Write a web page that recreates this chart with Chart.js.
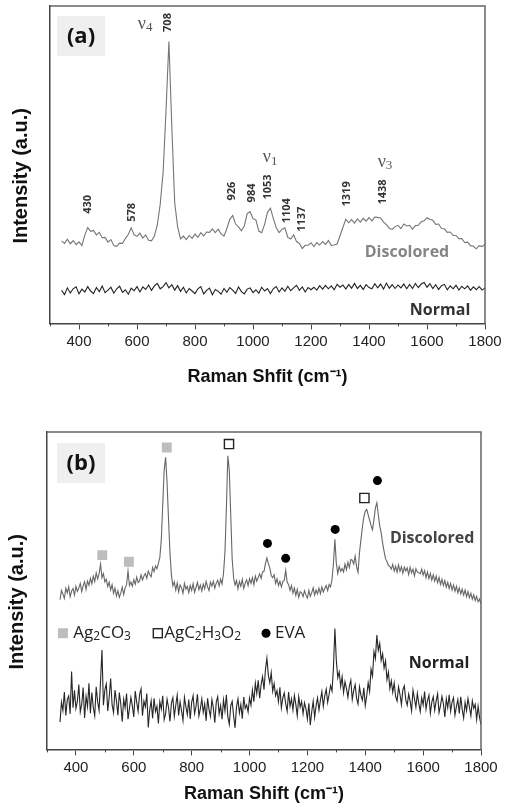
<!DOCTYPE html>
<html>
<head>
<meta charset="utf-8">
<script src="https://cdn.jsdelivr.net/npm/chart.js@4.4.1/dist/chart.umd.min.js"></script>
<style>
  body { margin: 0; background: #fff; }
  canvas { display: block; }
</style>
</head>
<body>
<canvas id="chartA" width="505" height="400"></canvas>
<canvas id="chartB" width="505" height="409"></canvas>
<script>
/*///////////////////////////////////////////////////////////
資料 (a) : 340 ~ 1800 cm-1, every 10
///////////////////////////////////////////////////////////*/
var shiftStartA = 340, shiftStepA = 10;
var discoloredA = [
  26.0, 25.2, 26.5, 25.1, 26.1, 24.8, 25.7,
  24.5, 27.8, 30.2, 29.0, 29.3, 27.9, 28.7, 27.0, 27.1, 25.6,
  26.4, 24.5, 24.3, 25.3, 25.2, 26.8, 28.0, 30.1, 27.9, 27.4,
  28.4, 26.9, 27.9, 26.2, 26.0, 27.5, 31.0, 37.5, 47.5, 67.0,
  88.8, 62.0, 38.0, 30.5, 26.6, 27.5, 26.4, 27.7, 26.8, 28.1,
  27.1, 28.6, 27.6, 28.8, 28.7, 29.8, 28.6, 29.7, 28.2, 27.5,
  29.9, 32.8, 34.0, 31.3, 30.4, 29.2, 30.7, 34.6, 35.2, 33.0,
  32.6, 29.1, 28.6, 31.2, 35.0, 36.3, 33.1, 30.2, 28.6, 29.6,
  30.1, 27.1, 26.6, 27.9, 25.8, 25.2, 23.6, 24.6, 24.6, 25.4,
  24.2, 25.5, 24.7, 25.8, 24.9, 26.1, 24.6, 24.7, 25.0, 27.6,
  30.2, 32.8, 31.7, 32.7, 31.6, 32.9, 31.9, 33.1, 32.2, 33.3,
  32.3, 33.5, 33.4, 33.2, 31.9, 31.1, 30.0, 29.6, 30.5, 30.9,
  29.9, 31.3, 30.7, 30.9, 29.7, 30.8, 30.9, 32.0, 32.3, 33.3,
  32.8, 32.5, 31.2, 31.3, 29.9, 29.8, 28.7, 28.8, 27.7, 27.7,
  26.7, 26.7, 25.5, 25.6, 24.5, 24.3, 23.5, 24.5, 24.2, 25.0
];
var normalA = [
  10.4, 9.1, 11.2, 9.6, 10.9, 11.5, 9.3,
  10.8, 9.9, 11.6, 10.2, 9.4, 11.3, 10.0, 11.8, 9.7, 10.5,
  11.4, 9.5, 10.9, 11.7, 9.8, 10.6, 9.2, 11.1, 10.3, 11.6,
  9.9, 11.5, 10.7, 12.1, 10.4, 11.8, 12.6, 10.9, 11.6, 12.8,
  11.2, 12.2, 10.5, 11.9, 10.1, 11.4, 9.6, 11.0, 10.2, 9.4,
  10.9, 11.6, 9.3, 10.4, 11.1, 9.0, 10.7, 10.1, 9.2, 11.0,
  9.8, 11.3, 10.5, 9.4, 11.5, 10.0, 9.3, 10.8, 11.2, 9.7,
  10.6, 9.5, 11.4, 10.2, 11.0, 9.4, 10.9, 11.6, 9.9, 11.2,
  10.1, 11.7, 10.3, 11.2, 12.0, 10.4, 11.5, 9.9, 11.3, 10.6,
  11.4, 10.5, 11.9, 10.8, 12.0, 10.9, 11.8, 10.6, 12.3, 11.4,
  12.1, 10.8, 12.3, 11.1, 12.6, 11.0, 12.0, 10.7, 12.2, 11.3,
  10.9, 12.5, 11.2, 12.4, 10.8, 12.7, 11.1, 12.2, 11.0, 12.1,
  11.2, 12.4, 10.9, 12.3, 11.0, 12.6, 11.3, 12.4, 12.9, 11.4,
  12.5, 11.0, 12.2, 10.7, 11.9, 12.3, 10.6, 11.8, 10.9, 12.0,
  10.5, 11.7, 10.9, 11.8, 10.4, 11.5, 10.6, 11.6, 10.5, 11.2
];
var peakNamesA = ['708', '430', '578', '926', '984', '1053', '1104', '1137', '1319', '1438'];

/*///////////////////////////////////////////////////////////
資料 (b) : 345 ~ 1800 cm-1, every 5
///////////////////////////////////////////////////////////*/
var shiftStartB = 345, shiftStepB = 5;
var discoloredB = [
  47.2, 50.1, 48.9, 47.6, 50.8, 49.3, 51.2, 48.1, 49.9, 50.7,
  48.6, 51.4, 49.8, 50.9, 52.3, 49.7, 51.6, 52.8, 50.4, 53.0,
  51.7, 53.9, 52.2, 54.6, 52.9, 55.6, 53.7, 55.3, 58.4, 54.1,
  55.4, 52.8, 53.6, 51.3, 52.7, 50.2, 51.9, 49.2, 50.8, 48.3,
  50.0, 47.9, 49.3, 51.1, 48.8, 50.9, 51.9, 56.2, 51.6, 52.7,
  51.4, 53.5, 52.0, 54.3, 52.6, 53.1, 55.0, 53.4, 54.6, 55.4,
  53.9, 56.2, 55.1, 54.4, 57.3, 56.0, 57.8, 56.9, 58.6, 60.5,
  66.0, 77.0, 88.0, 92.0, 84.0, 72.5, 62.0, 55.0, 51.5, 52.8,
  50.2, 52.4, 49.6, 51.8, 50.9, 49.2, 52.3, 50.5, 51.4, 49.4,
  51.7, 50.1, 52.2, 49.5, 51.0, 52.6, 50.3, 51.8, 49.9, 52.1,
  50.6, 52.9, 51.2, 50.0, 52.7, 51.5, 53.0, 50.8, 52.4, 53.3,
  51.5, 53.6, 52.1, 55.4, 62.0, 76.0, 92.5, 88.0, 74.0, 60.0,
  54.0, 51.8, 53.2, 50.6, 52.9, 51.4, 53.6, 50.7, 52.3, 53.4,
  51.6, 53.8, 52.3, 54.1, 51.9, 54.6, 53.0, 54.2, 55.3, 53.9,
  55.9, 56.1, 58.5, 60.3, 58.6, 57.2, 54.8, 54.1, 55.0, 52.3,
  53.7, 51.6, 53.0, 51.2, 52.9, 53.3, 56.4, 52.7, 51.9, 50.1,
  51.6, 49.2, 50.8, 48.5, 50.4, 47.9, 49.7, 49.3, 48.1, 50.0,
  48.6, 47.7, 50.1, 48.2, 49.4, 50.9, 48.6, 50.2, 49.0, 50.8,
  49.1, 51.2, 49.6, 50.7, 51.6, 50.0, 51.9, 51.2, 53.5, 58.5,
  66.2, 58.6, 55.4, 57.6, 56.1, 57.0, 55.9, 58.4, 56.6, 59.0,
  57.3, 59.8, 59.6, 58.4, 60.9, 57.6, 55.8, 62.0, 66.0, 70.0,
  73.2, 75.0, 75.6, 74.0, 72.2, 70.5, 69.2, 72.4, 76.0, 77.7,
  74.0, 70.4, 68.2, 65.0, 62.4, 60.1, 59.2, 58.0, 57.6, 56.8,
  58.3, 56.2, 57.7, 55.8, 58.1, 56.1, 57.6, 55.5, 57.4, 56.2,
  57.2, 55.1, 57.4, 55.6, 56.8, 54.7, 56.9, 55.9, 55.7, 55.3,
  56.8, 54.9, 56.3, 54.1, 55.9, 53.8, 55.4, 53.3, 55.0, 53.0,
  54.6, 52.5, 54.2, 52.0, 53.6, 51.6, 53.2, 51.1, 52.6, 50.7,
  52.3, 50.2, 51.8, 49.8, 51.4, 49.3, 50.9, 49.0, 50.5, 48.6,
  50.2, 48.1, 49.7, 47.8, 49.2, 47.3, 48.7, 46.9, 48.2, 46.5,
  47.4, 45.8
];
var normalB = [
  8.6, 14.9, 12.3, 18.1, 10.7, 15.6, 16.8, 11.2, 24.5, 13.1,
  18.6, 12.9, 15.1, 20.4, 11.8, 14.2, 19.5, 9.9, 16.7, 13.5,
  20.8, 11.4, 17.9, 13.2, 10.6, 19.7, 15.0, 12.3, 21.4, 31.3,
  13.9, 18.8, 20.6, 12.1, 16.5, 22.3, 14.0, 11.6, 18.7, 15.3,
  10.8, 17.9, 14.4, 8.7, 15.8, 13.1, 17.6, 9.5, 12.9, 16.4,
  13.7, 10.2, 18.4, 14.9, 12.0, 17.3, 19.1, 10.6, 15.2, 13.4,
  17.6, 6.9, 12.5, 15.3, 9.8, 16.1, 11.9, 13.6, 8.2, 15.0,
  12.7, 16.9, 9.4, 11.3, 15.8, 13.2, 8.8, 14.6, 16.3, 10.4,
  13.9, 17.1, 10.7, 15.0, 12.2, 9.1, 16.4, 13.5, 11.0, 15.7,
  9.6, 14.8, 16.9, 11.3, 13.6, 17.4, 10.5, 12.8, 15.9, 11.7,
  14.3, 9.0, 16.1, 12.6, 10.4, 15.7, 13.0, 8.4, 14.9, 16.6,
  11.2, 13.8, 9.5, 15.6, 12.1, 17.2, 10.3, 7.9, 13.7, 15.1,
  10.6, 6.8, 13.4, 15.9, 11.5, 14.2, 9.7, 16.5, 12.9, 14.0,
  11.8, 16.2, 13.9, 18.7, 15.0, 20.9, 17.6, 21.8, 16.1, 20.4,
  22.9, 18.8, 25.1, 28.7, 23.4, 21.0, 24.2, 18.3, 20.7, 16.9,
  18.5, 15.0, 19.6, 13.1, 16.2, 17.8, 14.4, 12.0, 18.1, 13.6,
  15.9, 12.4, 17.0, 14.2, 10.6, 16.6, 13.3, 15.1, 11.2, 14.7,
  12.8, 9.6, 14.5, 7.6, 11.9, 15.2, 10.1, 13.7, 16.2, 12.4,
  15.5, 18.2, 13.6, 16.9, 19.0, 14.8, 17.3, 20.1, 18.4, 25.6,
  38.1, 28.0, 22.6, 24.4, 19.8, 22.9, 17.9, 21.3, 19.2, 16.4,
  19.9, 21.8, 15.7, 18.6, 20.4, 16.1, 14.3, 19.7, 17.0, 15.5,
  19.4, 13.8, 16.9, 21.0, 18.2, 25.3, 23.1, 30.8, 28.6, 36.0,
  31.2, 33.4, 28.0, 30.1, 25.6, 27.9, 22.0, 24.4, 19.2, 21.6,
  18.0, 20.9, 16.6, 15.2, 19.7, 17.3, 14.1, 18.8, 20.0, 15.6,
  13.9, 17.4, 15.2, 12.1, 18.6, 16.0, 13.3, 17.7, 14.5, 11.9,
  16.3, 14.0, 18.2, 12.7, 15.4, 17.1, 11.4, 14.9, 16.6, 12.3,
  15.2, 17.5, 11.6, 13.8, 16.7, 14.4, 10.2, 15.9, 13.1, 17.2,
  12.0, 14.9, 16.3, 10.8, 13.5, 15.7, 11.3, 16.6, 12.6, 9.9,
  14.8, 12.2, 16.0, 13.4, 10.6, 15.3, 12.9, 14.2, 9.4, 13.6,
  10.1, 7.8
];
// 峰位標記 (b)
var ag2co3Shift = [491, 583, 714];
var ag2co3Level = [61.2, 59.1, 95.1];
var acetateShift = [929, 1397];
var acetateLevel = [96.2, 79.2];
var evaShift = [1062, 1125, 1296, 1442];
var evaLevel = [64.9, 60.2, 69.3, 84.7];

/*///////////////////////////////////////////////////////////
工具
///////////////////////////////////////////////////////////*/
function toPoints(start, step, values) {
  return values.map(function (v, i) { return { x: start + i * step, y: v }; });
}
function pair(xs, ys) {
  return xs.map(function (x, i) { return { x: x, y: ys[i] }; });
}

var HUMAN = '"Open Sans", "Noto Sans", sans-serif';
var SERIF = '"Liberation Serif", "DejaVu Serif", serif';

// digits are drawn as subscripts (Ag2CO3, v4 ...)
function drawSubText(ctx, str, x, y, size, family, weight, align) {
  var parts = str.match(/\d+|\D+/g);
  var small = Math.round(size * 0.7);
  var w = 0;
  parts.forEach(function (p) {
    ctx.font = weight + ' ' + (/\d/.test(p) ? small : size) + 'px ' + family;
    w += ctx.measureText(p).width;
  });
  var cx = align === 'center' ? x - w / 2 : x;
  ctx.textAlign = 'left';
  ctx.textBaseline = 'middle';
  parts.forEach(function (p) {
    var sub = /\d/.test(p);
    ctx.font = weight + ' ' + (sub ? small : size) + 'px ' + family;
    ctx.fillText(p, cx, sub ? y + size * 0.2 : y);
    cx += ctx.measureText(p).width;
  });
}

/*///////////////////////////////////////////////////////////
標註 plugin : frame, minor ticks, panel tag, texts
///////////////////////////////////////////////////////////*/
var notePlugin = {
  id: 'notes',
  afterDatasetsDraw: function (chart, args, opts) {
    var ctx = chart.ctx, a = chart.chartArea;
    var xs = chart.scales.x, ys = chart.scales.y;
    ctx.save();

    // top / right frame
    ctx.strokeStyle = '#666';
    ctx.lineWidth = 1.5;
    ctx.beginPath();
    ctx.moveTo(a.left, a.top);
    ctx.lineTo(a.right, a.top);
    ctx.lineTo(a.right, a.bottom);
    ctx.stroke();

    // minor ticks every odd hundred
    ctx.strokeStyle = '#444';
    ctx.lineWidth = 1;
    for (var v = 300; v <= 1800; v += 100) {
      if (v % 200 === 0) continue;
      var px = Math.round(xs.getPixelForValue(v)) + 0.5;
      ctx.beginPath();
      ctx.moveTo(px, a.bottom);
      ctx.lineTo(px, a.bottom + 3);
      ctx.stroke();
    }

    // (a) / (b) tag
    var t = opts.tag;
    ctx.fillStyle = '#efefef';
    ctx.fillRect(a.left + t.dx, a.top + t.dy, 48, 40);
    ctx.fillStyle = '#111';
    ctx.font = 'bold 22px ' + HUMAN;
    ctx.textAlign = 'center';
    ctx.textBaseline = 'middle';
    ctx.fillText(t.text, a.left + t.dx + 24, a.top + t.dy + 21);

    (opts.items || []).forEach(function (it) {
      var x = xs.getPixelForValue(it.x), y = ys.getPixelForValue(it.y);
      ctx.fillStyle = it.color;
      if (it.rotate) {
        ctx.save();
        ctx.translate(x, y);
        ctx.rotate(-Math.PI / 2);
        ctx.font = 'bold 11px ' + HUMAN;
        ctx.textAlign = 'center';
        ctx.textBaseline = 'middle';
        ctx.fillText(it.text, 0, 0);
        ctx.restore();
      } else if (it.key) {
        // legend key
        ctx.lineWidth = 1.4;
        if (it.key === 'fill') {
          ctx.fillStyle = '#bdbdbd';
          ctx.fillRect(x - 5, y - 5, 10, 10);
        } else if (it.key === 'open') {
          ctx.strokeStyle = '#222';
          ctx.strokeRect(x - 4.5, y - 4.5, 9, 9);
        } else {
          ctx.fillStyle = '#000';
          ctx.beginPath();
          ctx.arc(x, y, 4.5, 0, Math.PI * 2);
          ctx.fill();
        }
      } else {
        drawSubText(ctx, it.text, x, y, it.size, it.family || HUMAN, it.weight || 'normal', it.align || 'center');
      }
    });
    ctx.restore();
  }
};

/*///////////////////////////////////////////////////////////
圖表
///////////////////////////////////////////////////////////*/
Chart.defaults.font.family = '"Liberation Sans", Arial, sans-serif';
Chart.defaults.color = '#222';

function makeChart(id, cfg) {
  return new Chart(document.getElementById(id), {
    type: 'line',
    data: { datasets: cfg.datasets },
    options: {
      responsive: false,
      animation: false,
      events: [],
      layout: { padding: cfg.padding },
      plugins: {
        legend: { display: false },
        tooltip: { enabled: false },
        notes: { tag: cfg.tag, items: cfg.items }
      },
      scales: {
        x: {
          type: 'linear',
          min: 300,
          max: 1800,
          grid: {
            drawOnChartArea: false,
            tickLength: 6,
            tickColor: function (c) { return c.tick && c.tick.value % 200 === 0 ? '#444' : 'rgba(0,0,0,0)'; }
          },
          border: { display: true, color: '#444', width: 1.5 },
          ticks: {
            stepSize: 100,
            autoSkip: false,
            maxRotation: 0,
            padding: 3,
            color: '#222',
            font: { size: 15 },
            callback: function (v) { return v % 200 === 0 ? v : ''; }
          },
          title: {
            display: true,
            text: cfg.xTitle,
            color: '#111',
            font: { size: 18, weight: 'bold' },
            padding: cfg.xTitlePad
          }
        },
        y: {
          min: 0,
          max: 100,
          grid: { display: false, drawTicks: false },
          border: { display: true, color: '#444', width: 1.5 },
          ticks: { display: false },
          title: {
            display: true,
            // trailing spaces push the title a little down, as in the original
            text: 'Intensity (a.u.)\u00a0\u00a0\u00a0\u00a0',
            color: '#111',
            font: { size: 20, weight: 'bold' },
            padding: cfg.yTitlePad
          }
        }
      }
    },
    plugins: [notePlugin]
  });
}

// (a)
var labelsA = [
  { text: peakNamesA[0], x: 707, y: 94.8, rotate: true, color: '#333' },
  { text: peakNamesA[1], x: 431, y: 37.5, rotate: true, color: '#333' },
  { text: peakNamesA[2], x: 583, y: 35.0, rotate: true, color: '#333' },
  { text: peakNamesA[3], x: 928, y: 41.7, rotate: true, color: '#333' },
  { text: peakNamesA[4], x: 997, y: 41.1, rotate: true, color: '#333' },
  { text: peakNamesA[5], x: 1052, y: 43.0, rotate: true, color: '#333' },
  { text: peakNamesA[6], x: 1117, y: 35.5, rotate: true, color: '#333' },
  { text: peakNamesA[7], x: 1169, y: 32.8, rotate: true, color: '#333' },
  { text: peakNamesA[8], x: 1324, y: 40.8, rotate: true, color: '#333' },
  { text: peakNamesA[9], x: 1448, y: 41.4, rotate: true, color: '#333' },
  { text: '\u03bd4', x: 628, y: 94.4, size: 18, family: SERIF, color: '#555' },
  { text: '\u03bd1', x: 1059, y: 52.2, size: 18, family: SERIF, color: '#555' },
  { text: '\u03bd3', x: 1455, y: 50.9, size: 18, family: SERIF, color: '#555' },
  { text: 'Discolored', x: 1531, y: 22.3, size: 16, weight: 'bold', color: '#858585' },
  { text: 'Normal', x: 1645, y: 4.1, size: 16, weight: 'bold', color: '#333' }
];
makeChart('chartA', {
  padding: { top: 6, right: 20, bottom: 8, left: 0 },
  xTitle: 'Raman Shfit (cm\u207b\u00b9)',
  xTitlePad: { top: 13, bottom: 4 },
  yTitlePad: { top: 9, bottom: 17 },
  tag: { text: '(a)', dx: 7, dy: 10 },
  items: labelsA,
  datasets: [
    { data: toPoints(shiftStartA, shiftStepA, discoloredA), borderColor: '#757575', borderWidth: 1.1, pointRadius: 0, tension: 0 },
    { data: toPoints(shiftStartA, shiftStepA, normalA), borderColor: '#222', borderWidth: 1.1, pointRadius: 0, tension: 0 }
  ]
});

// (b)
var labelsB = [
  { text: 'Discolored', x: 1631, y: 66.4, size: 16, weight: 'bold', color: '#444' },
  { text: 'Normal', x: 1655, y: 27.2, size: 16, weight: 'bold', color: '#222' },
  { key: 'fill', x: 355, y: 36.6 },
  { text: 'Ag2CO3', x: 391, y: 36.6, size: 17, align: 'left', color: '#222' },
  { key: 'open', x: 683, y: 36.6 },
  { text: 'AgC2H3O2', x: 705, y: 36.6, size: 17, align: 'left', color: '#222' },
  { key: 'dot', x: 1057, y: 36.6 },
  { text: 'EVA', x: 1088, y: 36.6, size: 17, align: 'left', color: '#222' }
];
makeChart('chartB', {
  padding: { top: 32, right: 24, bottom: 2, left: 0 },
  xTitle: 'Raman Shift (cm\u207b\u00b9)',
  xTitlePad: { top: 4, bottom: 2 },
  yTitlePad: { top: 5, bottom: 18 },
  tag: { text: '(b)', dx: 10, dy: 11 },
  items: labelsB,
  datasets: [
    { type: 'scatter', data: pair(ag2co3Shift, ag2co3Level), pointStyle: 'rect', pointRadius: 7, backgroundColor: '#bdbdbd', borderWidth: 0 },
    { type: 'scatter', data: pair(acetateShift, acetateLevel), pointStyle: 'rect', pointRadius: 6.5, backgroundColor: '#fff', borderColor: '#222', borderWidth: 1.4 },
    { type: 'scatter', data: pair(evaShift, evaLevel), pointStyle: 'circle', pointRadius: 4.5, backgroundColor: '#000', borderWidth: 0 },
    { data: toPoints(shiftStartB, shiftStepB, discoloredB), borderColor: '#666', borderWidth: 1.1, pointRadius: 0, tension: 0 },
    { data: toPoints(shiftStartB, shiftStepB, normalB), borderColor: '#262626', borderWidth: 1.1, pointRadius: 0, tension: 0 }
  ]
});
</script>
</body>
</html>
